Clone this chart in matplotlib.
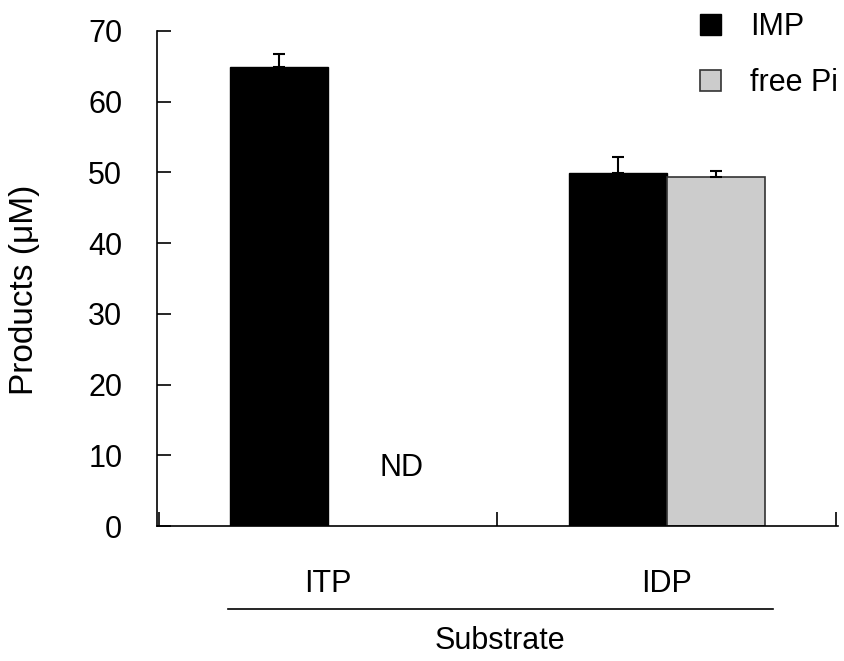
import matplotlib
matplotlib.use("Agg")
import matplotlib.pyplot as plt
import numpy as np

plt.rcParams['font.family'] = ['Liberation Sans', 'DejaVu Sans']

categories = ["ITP", "IDP"]
imp_values = [64.9, 49.9]
imp_err = [1.9, 2.3]
pi_values = [np.nan, 49.4]
pi_err = [0.0, 0.8]
series_labels = ["IMP", "free Pi"]
y_ticks = [0, 10, 20, 30, 40, 50, 60, 70]

FS = 22
fig = plt.figure(figsize=(8.45, 6.61), dpi=100)
ax = fig.add_axes([157/845, 1-526/661, 681/845, 495/661])

x = np.arange(len(categories))
w = 0.29
b1 = ax.bar(x - w/2, imp_values, w, color='black', edgecolor='black', linewidth=1,
            label=series_labels[0], zorder=2)
b2 = ax.bar(x + w/2, pi_values, w, color='#cccccc', edgecolor='#333333', linewidth=1.2,
            label=series_labels[1], zorder=2)
ax.errorbar(x - w/2, imp_values, yerr=[np.zeros(len(imp_err)), imp_err], fmt='none',
            ecolor='black', elinewidth=1.5, capsize=4.5, capthick=1.5, zorder=3)
ax.errorbar(x + w/2, pi_values, yerr=[np.zeros(len(pi_err)), pi_err], fmt='none',
            ecolor='black', elinewidth=1.5, capsize=4.5, capthick=1.5, zorder=3)

ax.text(0.217, 8.2, "ND", ha='center', va='center', fontsize=FS)

ax.set_xlim(-0.505, 1.505)
ax.set_ylim(0, 70)
ax.set_yticks(y_ticks)
ax.tick_params(axis='y', direction='in', length=10, width=1.2, labelsize=FS, pad=25)
ax.set_xticks(x)
ax.set_xticklabels(categories)
ax.tick_params(axis='x', which='major', length=0, labelsize=FS, pad=31)
ax.set_xticks([-0.5, 0.5, 1.5], minor=True)
ax.tick_params(axis='x', which='minor', direction='in', length=10, width=1.2)

for s in ['top', 'right']:
    ax.spines[s].set_visible(False)
for s in ['left', 'bottom']:
    ax.spines[s].set_linewidth(1.2)

ax.plot([0.104, 0.905], [-0.168, -0.168], transform=ax.transAxes, color='black',
        linewidth=1.2, clip_on=False)
ax.set_xlabel("Substrate", fontsize=FS)
ax.xaxis.set_label_coords(0.504, -0.203)

fig.text(25/845, 1-290/661, "Products (\u03bcM)", rotation=90, ha='center', va='center',
         fontsize=24)

leg = ax.legend(handles=[b1, b2], loc='upper left', bbox_to_anchor=(700/845, 1-12/661),
                bbox_transform=fig.transFigure, frameon=False, fontsize=FS,
                handlelength=0.68, handleheight=0.68, handletextpad=0.95,
                labelspacing=0.85, borderaxespad=0, borderpad=0)

fig.savefig("out.png", dpi=100)
